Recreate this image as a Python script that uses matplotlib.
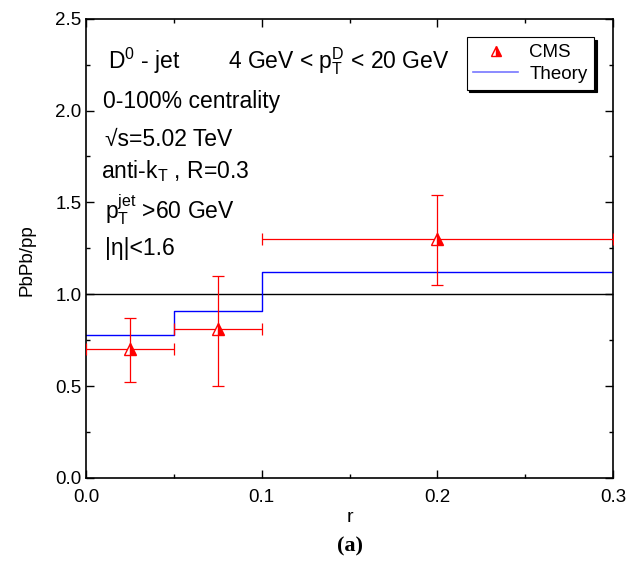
import matplotlib.pyplot as plt
from matplotlib.ticker import MultipleLocator
import numpy as np

plt.rcParams['font.family'] = ['Liberation Sans', 'DejaVu Sans']
plt.rcParams['mathtext.fontset'] = 'custom'
plt.rcParams['mathtext.rm'] = 'Liberation Sans'
plt.rcParams['mathtext.it'] = 'Liberation Sans'

# CMS measurement
cms_r = [0.025, 0.075, 0.2]
cms_val = [0.70, 0.81, 1.30]
cms_lo = [0.52, 0.50, 1.05]
cms_hi = [0.87, 1.10, 1.54]
cms_rlo = [0.0, 0.05, 0.1]
cms_rhi = [0.05, 0.1, 0.3]

# theory histogram
th_edges = [0.0, 0.05, 0.1, 0.3]
th_val = [0.78, 0.91, 1.12]

fig = plt.figure(figsize=(6.38, 5.65), dpi=100)
ax = fig.add_axes([0.135, 0.154, 0.826, 0.813])

ax.axhline(1.0, color='black', lw=1.0, zorder=1)

th_y = th_val + [th_val[-1]]
ax.step(th_edges, th_y, where='post', color='blue', lw=1.0, zorder=2)

yerr = [np.array(cms_val) - np.array(cms_lo), np.array(cms_hi) - np.array(cms_val)]
xerr = [np.array(cms_r) - np.array(cms_rlo), np.array(cms_rhi) - np.array(cms_r)]
ax.errorbar(cms_r, cms_val, yerr=yerr, xerr=xerr, fmt='none', ecolor='red',
            elinewidth=0.9, capsize=4.5, capthick=0.9, zorder=3)
ax.plot(cms_r, cms_val, ls='none', marker='^', ms=9, color='red',
        fillstyle='right', markerfacecoloralt='white', markeredgecolor='red',
        markeredgewidth=1.0, zorder=4)

# legend handles
h_cms, = ax.plot([], [], ls='none', marker='^', ms=7, color='red',
                 fillstyle='right', markerfacecoloralt='white', markeredgecolor='red',
                 label='CMS')
h_th, = ax.plot([], [], color='#7777ff', lw=1.2, label='Theory')

ax.set_xlim(0, 0.3)
ax.set_ylim(0, 2.5)
ax.xaxis.set_major_locator(MultipleLocator(0.1))
ax.xaxis.set_minor_locator(MultipleLocator(0.05))
ax.yaxis.set_major_locator(MultipleLocator(0.5))
ax.yaxis.set_minor_locator(MultipleLocator(0.25))
ax.xaxis.set_major_formatter(plt.FormatStrFormatter('%.1f'))
ax.yaxis.set_major_formatter(plt.FormatStrFormatter('%.1f'))
ax.tick_params(which='both', direction='in', top=True, right=True, labelsize=13.5)
ax.tick_params(which='major', length=6, width=1.0)
ax.tick_params(which='minor', length=3, width=1.0)
ax.tick_params(axis='x', pad=8)
for s in ax.spines.values():
    s.set_linewidth(1.2)

ax.set_xlabel('r', fontsize=14, labelpad=2)
ax.set_ylabel('PbPb/pp', fontsize=13.5)
ax.yaxis.set_label_coords(-0.097, 0.474)

kw = dict(transform=ax.transData, fontsize=16.5, va='center', ha='left')
ax.text(0.0125, 2.27, r'D$^{0}$ - jet', **kw)
ax.text(0.081, 2.27, r'4 GeV < p$_{\mathrm{T}}^{\mathrm{D}}$ < 20 GeV', **kw)
ax.text(0.0097, 2.05, '0-100% centrality', **kw)
ax.text(0.0105, 1.84, '√s=5.02 TeV', **kw)
ax.text(0.0085, 1.67, r'anti-k$_{\mathrm{T}}$ , R=0.3', **kw)
ax.text(0.0105, 1.46, r'p$_{\mathrm{T}}^{\mathrm{jet}}$ >60 GeV', **kw)
ax.text(0.0105, 1.25, '|η|<1.6', **kw)

leg = ax.legend(handles=[h_cms, h_th], loc='upper right', bbox_to_anchor=(0.964, 0.959),
                borderaxespad=0, fontsize=13.5, frameon=True, fancybox=False,
                edgecolor='black', shadow={'color': 'black', 'alpha': 1.0},
                handlelength=2.4, borderpad=0.35, labelspacing=0.25, handletextpad=0.6)
leg.get_frame().set_linewidth(0.8)

fig.text(0.548, 0.032, '(a)', fontsize=16, fontweight='bold', family='Liberation Serif',
         ha='center', va='center')

fig.savefig('out.png', dpi=100)
